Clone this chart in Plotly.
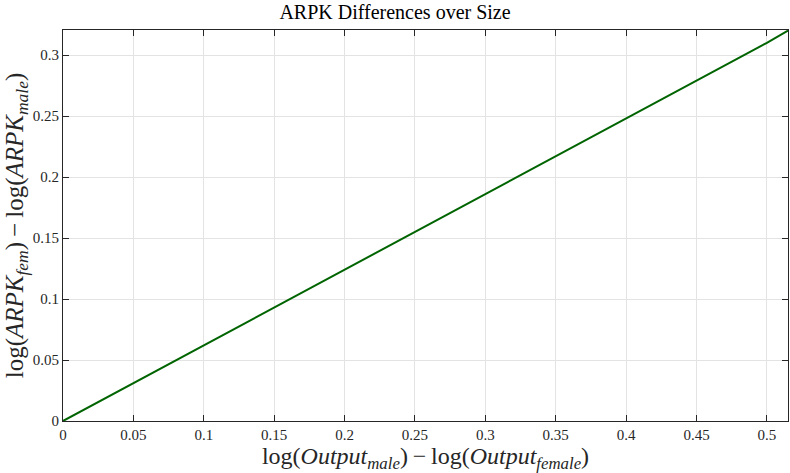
import plotly.graph_objects as go

# Log output gap (male vs female) and the matching ARPK gap
output_gap = [0.0, 0.05, 0.10, 0.15, 0.20, 0.25, 0.30, 0.35, 0.40, 0.45, 0.50, 0.515]
arpk_gap = [0.0, 0.031, 0.062, 0.093, 0.124, 0.155, 0.186, 0.217, 0.248, 0.279, 0.310, 0.320]

x_ticks = [0, 0.05, 0.1, 0.15, 0.2, 0.25, 0.3, 0.35, 0.4, 0.45, 0.5]
x_labels = ["0", "0.05", "0.1", "0.15", "0.2", "0.25", "0.3", "0.35", "0.4", "0.45", "0.5"]
y_ticks = [0, 0.05, 0.1, 0.15, 0.2, 0.25, 0.3]
y_labels = ["0", "0.05", "0.1", "0.15", "0.2", "0.25", "0.3"]

serif = "Liberation Serif"
axis_color = "#262626"


def sub(s):
    return "<sub><i>" + s + "</i></sub>"


minus = "\u2009\u2212\u2009"

fig = go.Figure()
fig.add_trace(go.Scatter(
    x=output_gap, y=arpk_gap, mode="lines",
    line=dict(color="#006400", width=2),
    showlegend=False,
))

common_axis = dict(
    showline=True, linecolor=axis_color, linewidth=1, mirror="ticks",
    ticks="inside", ticklen=6, tickcolor=axis_color, tickwidth=1,
    showgrid=True, gridcolor="#e3e3e3", gridwidth=1,
    zeroline=False,
    tickfont=dict(family=serif, size=15, color=axis_color),
)

fig.update_layout(
    width=790, height=473,
    margin=dict(l=63, r=2, t=30, b=52),
    paper_bgcolor="white", plot_bgcolor="white",
    font=dict(family=serif),
    title=dict(
        text="ARPK Differences over Size",
        x=0.5, xanchor="center", y=0.975, yanchor="middle",
        font=dict(family=serif, size=20, color="black"),
    ),
    xaxis=dict(
        range=[0, 0.515], tickvals=x_ticks, ticktext=x_labels,
        title=dict(
            text="log(<i>Output</i>" + sub("male") + ")" + minus + "log(<i>Output</i>" + sub("female") + ")",
            font=dict(family=serif, size=24, color=axis_color), standoff=2,
        ),
        **common_axis,
    ),
    yaxis=dict(
        range=[0, 0.3205], tickvals=y_ticks, ticktext=y_labels,
        title=dict(
            text="log(<i>ARPK</i>" + sub("fem") + ")" + minus + "log(<i>ARPK</i>" + sub("male") + ")",
            font=dict(family=serif, size=25, color=axis_color), standoff=2,
        ),
        **common_axis,
    ),
)

fig.write_html("out.html")
